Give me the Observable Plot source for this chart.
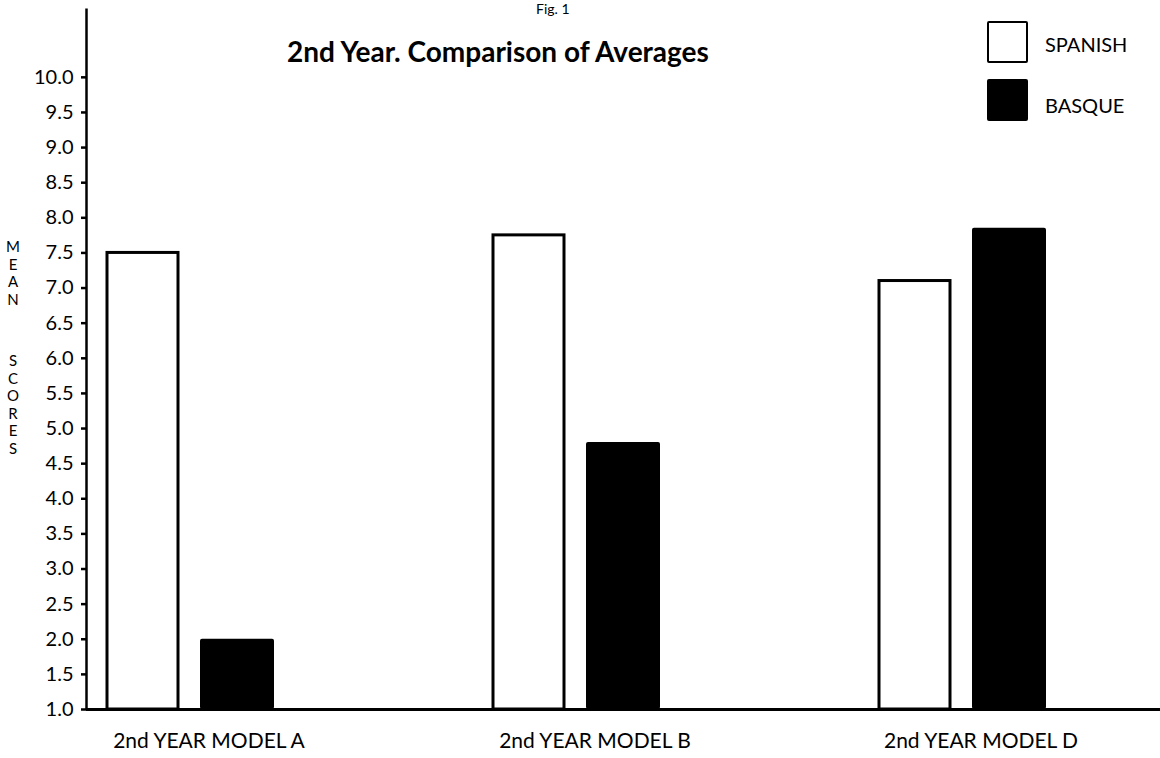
<!DOCTYPE html>
<html><head><meta charset="utf-8">
<script src="https://cdn.jsdelivr.net/npm/d3@7"></script>
<script src="https://cdn.jsdelivr.net/npm/@observablehq/plot@0.6"></script>
<style>
body{margin:0;background:#fff;font-family:Lato,"Open Sans",sans-serif;color:#000;}
#wrap{position:relative;width:1160px;height:758px;overflow:hidden;}
#wrap svg{position:absolute;left:0;top:0;}
.ov{position:absolute;white-space:nowrap;}
#fig{left:536px;top:2px;font-size:14px;line-height:14px;}
#title{left:287px;top:34px;font-size:28px;font-weight:bold;}
.ylab{left:5px;width:16px;text-align:center;font-size:15px;line-height:17.5px;}
.sw{position:absolute;left:987px;width:37px;height:38px;border:2.5px solid #000;border-radius:2px;}
.lt{position:absolute;left:1045px;font-size:20px;}
</style></head><body>
<div id="wrap"></div>
<script>
const models = ["2nd YEAR MODEL A", "2nd YEAR MODEL B", "2nd YEAR MODEL D"];
const series = ["SPANISH", "BASQUE"];
const spanish = [7.5, 7.75, 7.1];
const basque = [2.0, 4.8, 7.85];
const yTicks = [1.0, 1.5, 2.0, 2.5, 3.0, 3.5, 4.0, 4.5, 5.0, 5.5, 6.0, 6.5, 7.0, 7.5, 8.0, 8.5, 9.0, 9.5, 10.0];
const figLabel = "Fig. 1";
const titleText = "2nd Year. Comparison of Averages";
const yLabelTop = "MEAN";
const yLabelBottom = "SCORES";

const rows = models.flatMap((m, i) => [
  {model: m, series: series[0], value: spanish[i]},
  {model: m, series: series[1], value: basque[i]}
]);

const W = 1160, H = 758, mL = 86, mR = 0, mT = 8, mB = 49;
const fw = W - mL - mR, fh = H - mT - mB;

const chart = Plot.plot({
  width: W,
  height: H,
  marginLeft: mL,
  marginRight: mR,
  marginTop: mT,
  marginBottom: mB,
  style: {fontFamily: "Lato, 'Open Sans', sans-serif", fontSize: "20px", color: "#000", background: "transparent"},
  x: {domain: models, paddingInner: 0.568, paddingOuter: 0.1735, align: 0.157, label: null},
  y: {domain: [1, 10.98], label: null},
  marks: [
    // left axis line: only the left edge of the frame is stroked
    Plot.frame({stroke: "black", strokeWidth: 2.5, strokeDasharray: `0 ${2 * fw + fh} ${fh} 0`}),
    Plot.barY(rows.filter(d => d.series === series[0]), {x: "model", y1: 1, y2: "value", fill: "white", stroke: "black", strokeWidth: 3, insetRight: 96}),
    Plot.barY(rows.filter(d => d.series === series[1]), {x: "model", y1: 1, y2: "value", fill: "black", insetLeft: 93, rx: 2}),
    Plot.ruleY([1], {stroke: "black", strokeWidth: 3}),
    Plot.axisY({ticks: yTicks, tickFormat: d => d.toFixed(1), tickSize: 5, tickPadding: 8, strokeWidth: 2.5, label: null, fontSize: 20}),
    Plot.axisX({tickSize: 0, tickPadding: 24, dx: 18, label: null, fontSize: 21})
  ]
});

const wrap = document.getElementById("wrap");
wrap.appendChild(chart);

function addDiv(cls, id, text, styles) {
  const d = document.createElement("div");
  d.className = cls;
  if (id) d.id = id;
  if (text != null) d.textContent = text;
  if (styles) Object.assign(d.style, styles);
  wrap.appendChild(d);
  return d;
}
addDiv("ov", "fig", figLabel);
addDiv("ov", "title", titleText);
addDiv("ov ylab", null, null, {top: "238px"}).innerHTML = yLabelTop.split("").join("<br>");
addDiv("ov ylab", null, null, {top: "352px"}).innerHTML = yLabelBottom.split("").join("<br>");
// legend
addDiv("sw", null, null, {top: "21px", background: "white"});
addDiv("lt", null, series[0], {top: "32px"});
addDiv("sw", null, null, {top: "79px", background: "black"});
addDiv("lt", null, series[1], {top: "93px"});
</script>
</body></html>
